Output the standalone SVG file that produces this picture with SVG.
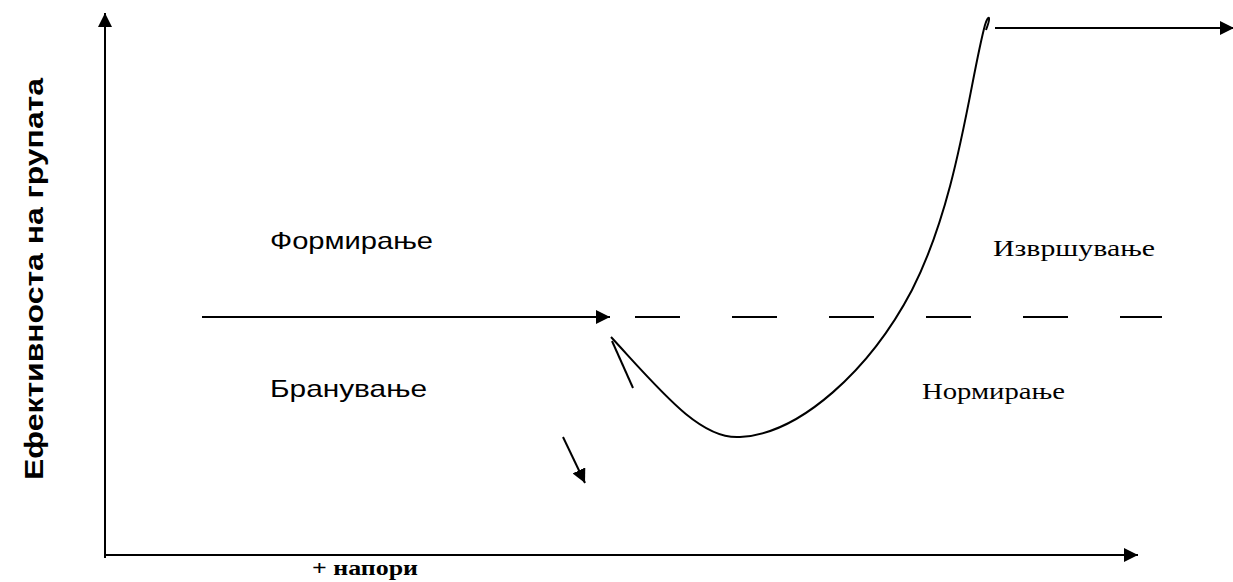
<svg xmlns="http://www.w3.org/2000/svg" width="1233" height="582" viewBox="0 0 1233 582">
<style>
.ln{stroke:#000;stroke-width:2;fill:none}
.sans{font-family:"Liberation Sans",Arial,sans-serif;font-size:24px;fill:#000}
.serif{font-family:"Liberation Serif","Times New Roman",serif;font-size:24px;fill:#000}
</style>
<defs>
<marker id="ah2" viewBox="0 0 10 10" refX="10" refY="5" markerWidth="14" markerHeight="14" markerUnits="userSpaceOnUse" orient="auto">
<path d="M0,0 L10,5 L0,10 Z" fill="#000"/>
</marker>
</defs>
<rect width="1233" height="582" fill="#fff"/>
<g id="connectors">
<line class="ln" x1="105" y1="558" x2="105" y2="13" marker-end="url(#ah2)"/>
<line class="ln" x1="105" y1="555" x2="1138" y2="555" marker-end="url(#ah2)"/>
<line class="ln" x1="202" y1="317" x2="610" y2="317" marker-end="url(#ah2)"/>
<line class="ln" x1="635" y1="317" x2="1162" y2="317" stroke-dasharray="45,52"/>
<path class="ln" d="M611,337 C660,390 700,440 740,437 C800,434 870,370 912,290 C958,200 970,80 985,25 C988,15 992,14 986,30"/>
<line class="ln" x1="995" y1="28" x2="1234" y2="28" marker-end="url(#ah2)"/>
<line class="ln" x1="612" y1="341" x2="633" y2="388"/>
<line class="ln" x1="563" y1="437" x2="585" y2="483" marker-end="url(#ah2)"/>
</g>
<g id="label-y"><text transform="translate(43,279) rotate(-90)" text-anchor="middle" textLength="402" lengthAdjust="spacingAndGlyphs" font-family="Liberation Sans,Arial,sans-serif" font-weight="bold" font-size="26">Ефективноста на групата</text></g>
<g id="forming"><text class="sans" x="270" y="249" textLength="163" lengthAdjust="spacingAndGlyphs">Формирање</text></g>
<g id="storming"><text class="sans" x="270" y="397" textLength="157" lengthAdjust="spacingAndGlyphs">Бранување</text></g>
<g id="performing"><text class="serif" x="993" y="256" textLength="162" lengthAdjust="spacingAndGlyphs">Извршување</text></g>
<g id="norming"><text class="serif" x="922" y="399" textLength="143" lengthAdjust="spacingAndGlyphs">Нормирање</text></g>
<g id="label-x"><text x="312" y="575" textLength="106" lengthAdjust="spacingAndGlyphs" font-family="Liberation Serif,Times New Roman,serif" font-weight="bold" font-size="22">+ напори</text></g>
</svg>
